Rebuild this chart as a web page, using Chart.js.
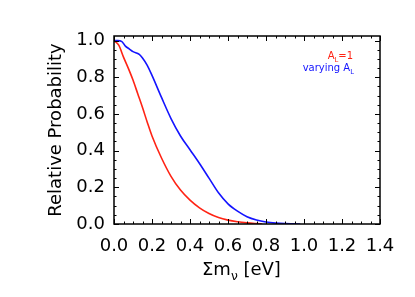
<!DOCTYPE html>
<html>
<head>
<meta charset="utf-8">
<script src="https://cdn.jsdelivr.net/npm/chart.js@4/dist/chart.umd.min.js"></script>
<style>
  html, body { margin: 0; padding: 0; background: #fff; }
  #grafico { display: block; }
</style>
</head>
<body>
<canvas id="grafico" width="415" height="297"></canvas>
<script>
// Suma de masas de neutrinos [eV] y probabilidad relativa
const masaFija = [0, 0.025, 0.05, 0.075, 0.1, 0.125, 0.15, 0.175, 0.2, 0.25, 0.3, 0.35, 0.4, 0.45, 0.5, 0.55, 0.6, 0.65, 0.7, 0.75, 0.78];
const probFija = [1.0, 0.975, 0.91, 0.85, 0.785, 0.71, 0.635, 0.555, 0.48, 0.36, 0.26, 0.185, 0.13, 0.088, 0.057, 0.035, 0.021, 0.012, 0.006, 0.002, 0.0];

const masaVariable = [0, 0.02, 0.04, 0.06, 0.08, 0.1, 0.133, 0.15, 0.175, 0.2, 0.25, 0.3, 0.35, 0.4, 0.45, 0.5, 0.55, 0.6, 0.65, 0.7, 0.75, 0.8, 0.85, 0.9, 0.95, 0.98];
const probVariable = [1.0, 1.0, 0.996, 0.97, 0.955, 0.94, 0.925, 0.905, 0.865, 0.81, 0.69, 0.575, 0.48, 0.405, 0.33, 0.25, 0.17, 0.11, 0.07, 0.04, 0.022, 0.011, 0.005, 0.002, 0.001, 0.0];

const ticksX = [0, 0.2, 0.4, 0.6, 0.8, 1.0, 1.2, 1.4];
const ticksY = [0, 0.2, 0.4, 0.6, 0.8, 1.0];

const tituloY = "Relative Probability";
const tituloX = ["Σm", "ν", " [eV]"];       // texto, subíndice, resto
const etiquetaFija = ["A", "L", "=1"];
const etiquetaVariable = ["varying A", "L", ""];

const ROJO = "rgb(255,35,20)";
const AZUL = "rgb(20,20,255)";
const FUENTE = "'DejaVu Sans', sans-serif";

function puntos(xs, ys) {
  return xs.map((x, i) => ({ x, y: ys[i] }));
}

// texto con subíndice, alineado a la derecha o desde la izquierda
function textoSub(ctx, partes, x, y, tam, alinear) {
  const tamSub = tam * 0.68;
  ctx.font = `${tam}px ${FUENTE}`;
  const w0 = ctx.measureText(partes[0]).width;
  const w2 = ctx.measureText(partes[2]).width;
  ctx.font = `${tamSub}px ${FUENTE}`;
  const w1 = ctx.measureText(partes[1]).width;
  let xi = alinear === "right" ? x - (w0 + w1 + w2) : x;
  ctx.textAlign = "left";
  ctx.textBaseline = "alphabetic";
  ctx.font = `${tam}px ${FUENTE}`;
  ctx.fillText(partes[0], xi, y);
  ctx.font = `${tamSub}px ${FUENTE}`;
  ctx.fillText(partes[1], xi + w0, y + tam * 0.25);
  ctx.font = `${tam}px ${FUENTE}`;
  ctx.fillText(partes[2], xi + w0 + w1, y);
}

// marco estilo IDL: caja, marcas hacia adentro, título x y etiquetas
const marco = {
  id: "marco",
  afterDatasetsDraw(chart) {
    const { ctx, chartArea: a, scales } = chart;
    const sx = scales.x, sy = scales.y;
    ctx.save();
    ctx.strokeStyle = "#000";
    ctx.lineWidth = 1.5;
    ctx.strokeRect(a.left, a.top, a.right - a.left, a.bottom - a.top);

    ctx.lineWidth = 1;
    ctx.beginPath();
    for (let i = 0; i <= 28; i++) {
      const px = Math.round(sx.getPixelForValue(i * 0.05)) + 0.5;
      const l = i % 4 === 0 ? 5 : 2.5;
      ctx.moveTo(px, a.bottom); ctx.lineTo(px, a.bottom - l);
      ctx.moveTo(px, a.top); ctx.lineTo(px, a.top + l);
    }
    for (let i = 0; i <= 20; i++) {
      const py = Math.round(sy.getPixelForValue(i * 0.05)) + 0.5;
      const l = i % 4 === 0 ? 5 : 2.5;
      ctx.moveTo(a.left, py); ctx.lineTo(a.left + l, py);
      ctx.moveTo(a.right, py); ctx.lineTo(a.right - l, py);
    }
    ctx.stroke();

    ctx.fillStyle = "#000";
    textoSub(ctx, tituloX, a.left + 88, 275, 18, "left");

    ctx.fillStyle = ROJO;
    textoSub(ctx, etiquetaFija, a.right - 27, 59, 10, "right");
    ctx.fillStyle = AZUL;
    textoSub(ctx, etiquetaVariable, a.right - 26, 71, 10, "right");
    ctx.restore();
  }
};

new Chart(document.getElementById("grafico"), {
  type: "scatter",
  data: {
    datasets: [
      {
        label: "A_L=1",
        data: puntos(masaFija, probFija),
        borderColor: ROJO,
        showLine: true,
        borderWidth: 1.6,
        pointRadius: 0,
        cubicInterpolationMode: "monotone"
      },
      {
        label: "varying A_L",
        data: puntos(masaVariable, probVariable),
        borderColor: AZUL,
        showLine: true,
        borderWidth: 1.6,
        pointRadius: 0,
        cubicInterpolationMode: "monotone"
      }
    ]
  },
  options: {
    responsive: false,
    devicePixelRatio: 1,
    animation: false,
    layout: { padding: { left: 0, top: 36, right: 35, bottom: 0 } },
    plugins: { legend: { display: false }, tooltip: { enabled: false } },
    scales: {
      x: {
        type: "linear",
        min: 0,
        max: 1.4,
        grid: { display: false, drawTicks: false },
        border: { display: false },
        afterBuildTicks: s => { s.ticks = ticksX.map(v => ({ value: v })); },
        afterFit: s => { s.height = 73; },
        ticks: {
          autoSkip: false,
          maxRotation: 0,
          padding: 12,
          color: "#000",
          font: { family: FUENTE, size: 18 },
          callback: v => v.toFixed(1)
        }
      },
      y: {
        type: "linear",
        min: 0,
        max: 1.025,
        grid: { display: false, drawTicks: false },
        border: { display: false },
        afterBuildTicks: s => { s.ticks = ticksY.map(v => ({ value: v })); },
        afterFit: s => { s.width = 114; },
        title: {
          display: true,
          text: tituloY,
          color: "#000",
          font: { family: FUENTE, size: 18 },
          padding: { top: 46, bottom: 0 }
        },
        ticks: {
          autoSkip: false,
          padding: 9,
          color: "#000",
          font: { family: FUENTE, size: 18 },
          callback: v => v.toFixed(1)
        }
      }
    }
  },
  plugins: [marco]
});
</script>
</body>
</html>
